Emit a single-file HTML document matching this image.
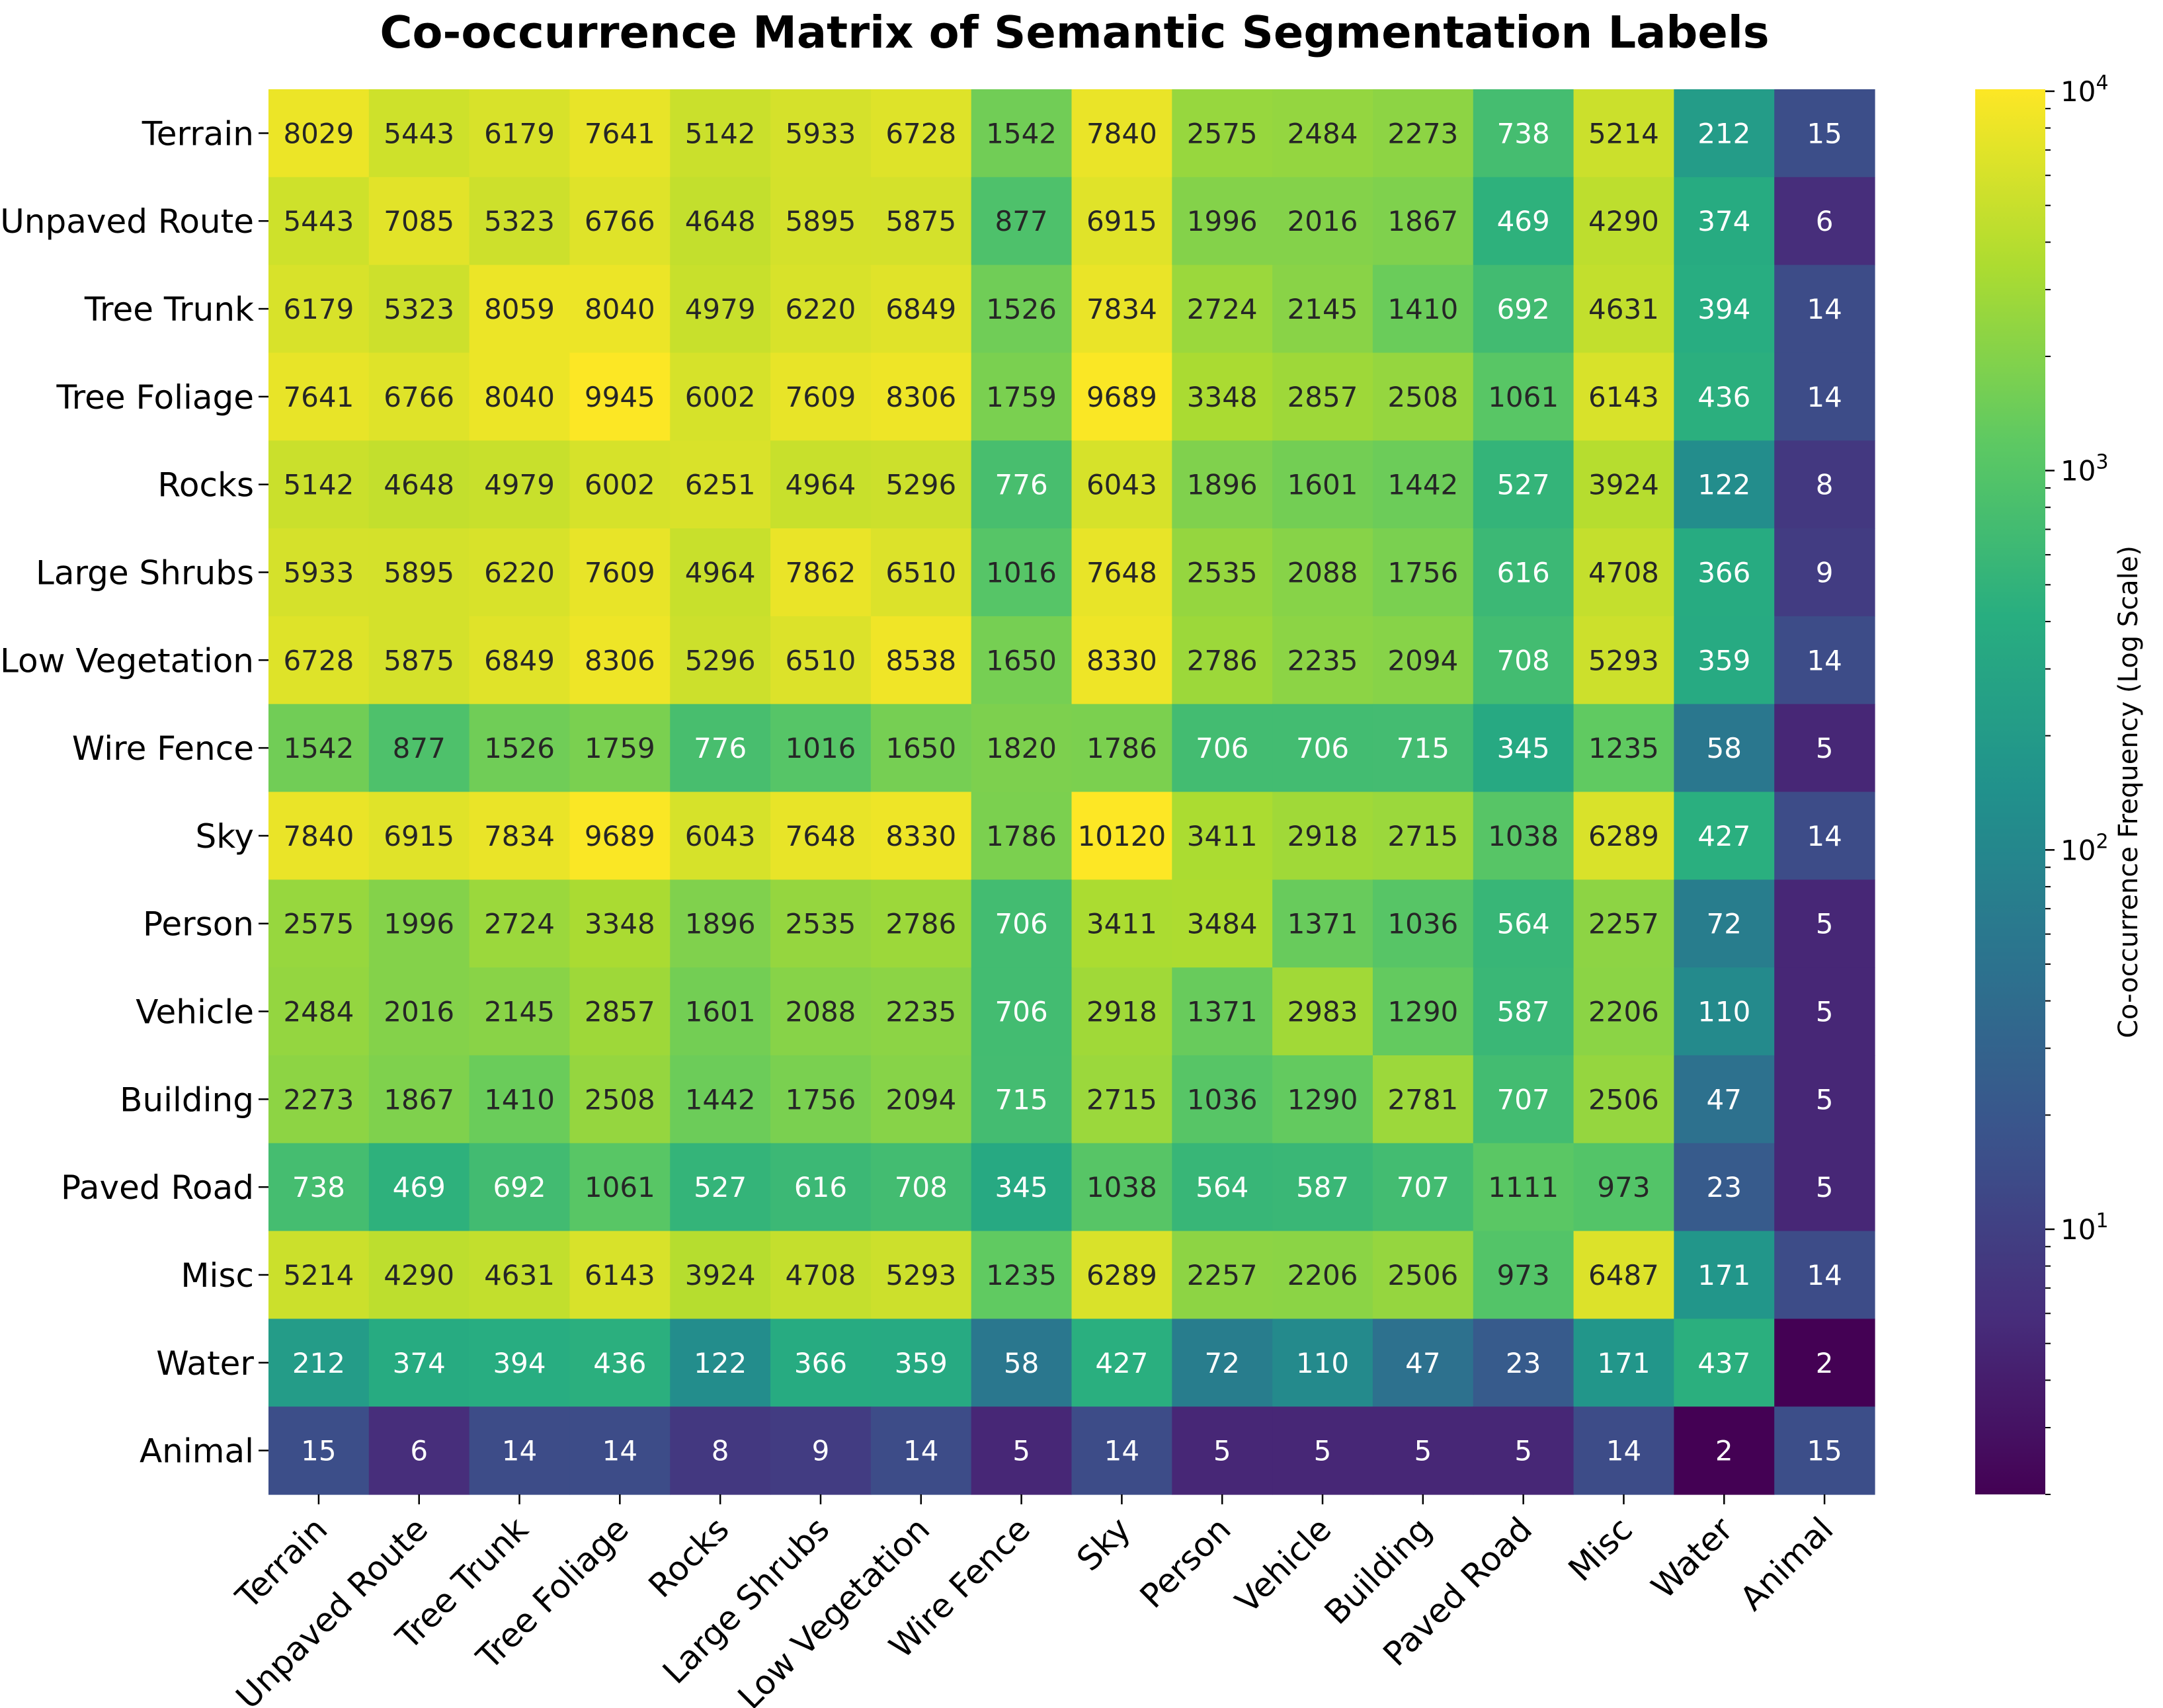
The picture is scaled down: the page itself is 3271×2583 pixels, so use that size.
<!DOCTYPE html>
<html><head><meta charset="utf-8"><style>
html,body{margin:0;padding:0;background:#fff;}
svg{display:block;font-family:"DejaVu Sans","Liberation Sans",sans-serif;}
</style></head><body>
<svg id="chart" width="3271" height="2583" viewBox="0 0 3271 2583" xmlns="http://www.w3.org/2000/svg">
<defs><linearGradient id="cbgrad" x1="0" y1="1" x2="0" y2="0"></linearGradient></defs>
<text x="1625" y="72" text-anchor="middle" font-size="67" font-weight="bold" fill="#000">Co-occurrence Matrix of Semantic Segmentation Labels</text>
<g id="cells"></g><g id="ylabels"></g><g id="xlabels"></g><g id="cbar"></g>
</svg>
<script>
const categories = ["Terrain","Unpaved Route","Tree Trunk","Tree Foliage","Rocks","Large Shrubs","Low Vegetation","Wire Fence","Sky","Person","Vehicle","Building","Paved Road","Misc","Water","Animal"];
const row0 = [8029,5443,6179,7641,5142,5933,6728,1542,7840,2575,2484,2273,738,5214,212,15];
const row1 = [5443,7085,5323,6766,4648,5895,5875,877,6915,1996,2016,1867,469,4290,374,6];
const row2 = [6179,5323,8059,8040,4979,6220,6849,1526,7834,2724,2145,1410,692,4631,394,14];
const row3 = [7641,6766,8040,9945,6002,7609,8306,1759,9689,3348,2857,2508,1061,6143,436,14];
const row4 = [5142,4648,4979,6002,6251,4964,5296,776,6043,1896,1601,1442,527,3924,122,8];
const row5 = [5933,5895,6220,7609,4964,7862,6510,1016,7648,2535,2088,1756,616,4708,366,9];
const row6 = [6728,5875,6849,8306,5296,6510,8538,1650,8330,2786,2235,2094,708,5293,359,14];
const row7 = [1542,877,1526,1759,776,1016,1650,1820,1786,706,706,715,345,1235,58,5];
const row8 = [7840,6915,7834,9689,6043,7648,8330,1786,10120,3411,2918,2715,1038,6289,427,14];
const row9 = [2575,1996,2724,3348,1896,2535,2786,706,3411,3484,1371,1036,564,2257,72,5];
const row10 = [2484,2016,2145,2857,1601,2088,2235,706,2918,1371,2983,1290,587,2206,110,5];
const row11 = [2273,1867,1410,2508,1442,1756,2094,715,2715,1036,1290,2781,707,2506,47,5];
const row12 = [738,469,692,1061,527,616,708,345,1038,564,587,707,1111,973,23,5];
const row13 = [5214,4290,4631,6143,3924,4708,5293,1235,6289,2257,2206,2506,973,6487,171,14];
const row14 = [212,374,394,436,122,366,359,58,427,72,110,47,23,171,437,2];
const row15 = [15,6,14,14,8,9,14,5,14,5,5,5,5,14,2,15];
const matrix = [row0,row1,row2,row3,row4,row5,row6,row7,row8,row9,row10,row11,row12,row13,row14,row15];
const cbMajorTicks = [10,100,1000,10000];
const cbMajorLabels = ["1","2","3","4"];

const NS="http://www.w3.org/2000/svg";
const L=406,R=2835,T=135,B=2260;
const n=categories.length, cw=(R-L)/n, ch=(B-T)/n;
let vmin=Infinity,vmax=-Infinity;
matrix.forEach(r=>r.forEach(v=>{if(v<vmin)vmin=v;if(v>vmax)vmax=v;}));
const lmin=Math.log10(vmin), lmax=Math.log10(vmax);
const norm=v=>(Math.log10(v)-lmin)/(lmax-lmin);
const vir=[[68,1,84],[71,45,123],[59,82,139],[44,114,142],[33,145,140],[40,174,128],[94,201,98],[173,220,48],[253,231,37]];
function color(t){t=Math.max(0,Math.min(1,t));const p=t*8,i=Math.min(7,Math.floor(p)),f=p-i;
 const c=vir[i].map((a,k)=>Math.round(a+(vir[i+1][k]-a)*f));return c;}
const rgb=c=>`rgb(${c[0]},${c[1]},${c[2]})`;
function lum(c){const s=c.map(x=>{x/=255;return x<=0.03928?x/12.92:Math.pow((x+0.055)/1.055,2.4);});return 0.2126*s[0]+0.7152*s[1]+0.0722*s[2];}
const xPos=j=>L+cw*(j+0.5), yPos=i=>T+ch*(i+0.5);
function el(tag,attrs,parent){const e=document.createElementNS(NS,tag);for(const k in attrs)e.setAttribute(k,attrs[k]);parent.appendChild(e);return e;}
const gCells=document.getElementById('cells');
matrix.forEach((r,i)=>r.forEach((v,j)=>{
 const c=color(norm(v));
 const rect=el('rect',{x:L+cw*j,y:T+ch*i,width:cw+0.6,height:ch+0.6,fill:rgb(c)},gCells);
 
 
 const t=el('text',{x:xPos(j),y:yPos(i)+15,'text-anchor':'middle','font-size':42,fill:lum(c)>0.408?'#262626':'#ffffff'},gCells);
 
 
 t.textContent=v;
}));
const gy=document.getElementById('ylabels'), gx=document.getElementById('xlabels');
categories.forEach((c,i)=>{
 el('line',{x1:L-15,x2:L,y1:yPos(i),y2:yPos(i),stroke:'#000','stroke-width':2.5},gy);
 const t=el('text',{x:L-22,y:yPos(i)+18,'text-anchor':'end','font-size':50,fill:'#000'},gy);
 
 
 t.textContent=c;
 el('line',{x1:xPos(i),x2:xPos(i),y1:B,y2:B+15,stroke:'#000','stroke-width':2.5},gx);
 const ax=xPos(i)+16, ay=B+56;
 const u=el('text',{x:ax,y:ay,'text-anchor':'end','font-size':50,fill:'#000',transform:`rotate(-45 ${ax} ${ay})`},gx);
 
 
 u.textContent=c;
});
const CL=2987,CR=3093;
const grad=document.getElementById('cbgrad');
for(let k=0;k<=40;k++){el('stop',{offset:k/40,'stop-color':rgb(color(k/40))},grad);}
const gc=document.getElementById('cbar');
const cbr=el('rect',{x:CL,y:T,width:CR-CL,height:B-T,fill:'url(#cbgrad)'},gc);


const cy=v=>B-norm(v)*(B-T);
for(let e=0;e<=4;e++)for(let m=1;m<=9;m++){const v=m*Math.pow(10,e);if(v<vmin||v>vmax)continue;
 el('line',{x1:CR,x2:CR+(m===1?14:8),y1:cy(v),y2:cy(v),stroke:'#000','stroke-width':m===1?2.5:2},gc);}
cbMajorTicks.forEach((v,k)=>{
 const t=el('text',{x:3116,y:cy(v)+15,'font-size':42,fill:'#000'},gc);
 
 
 t.textContent='10';
 const s=el('tspan',{dy:-18,'font-size':30},t);s.textContent=cbMajorLabels[k];
});
const lab=el('text',{x:3232,y:(T+B)/2,'text-anchor':'middle','font-size':40,fill:'#000',transform:`rotate(-90 3232 ${(T+B)/2})`},gc);


lab.textContent='Co-occurrence Frequency (Log Scale)';
</script>
</body></html>
